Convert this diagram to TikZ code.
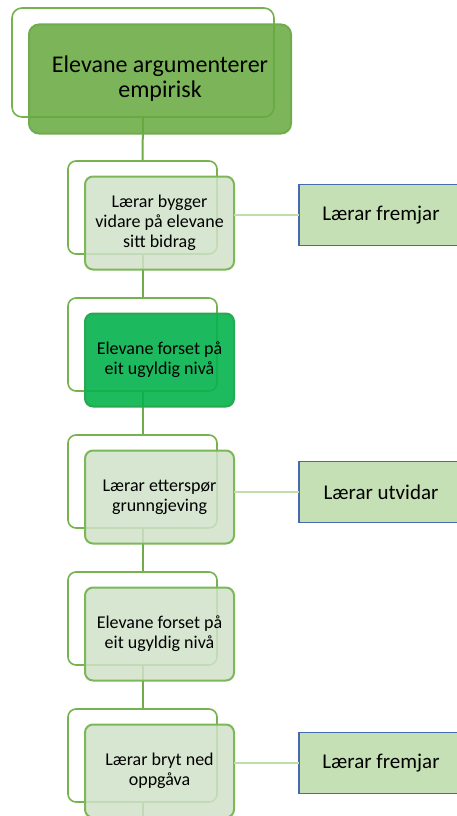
\documentclass[tikz,border=0pt]{standalone}
\usepackage{fontspec}
\usetikzlibrary{backgrounds}
\setmainfont{Carlito}
\definecolor{frameGreen}{RGB}{118,178,80}
\definecolor{spineGreen}{RGB}{112,170,74}
\definecolor{topFill}{RGB}{102,169,61}
\definecolor{topDraw}{RGB}{112,172,78}
\definecolor{paleFill}{RGB}{209,226,201}
\definecolor{paleDraw}{RGB}{124,183,88}
\definecolor{brightFill}{RGB}{5,178,77}
\definecolor{brightDraw}{RGB}{40,168,80}
\definecolor{sideFill}{RGB}{197,224,180}
\definecolor{sideDraw}{RGB}{70,106,172}
\definecolor{linkGreen}{RGB}{190,222,170}
\begin{document}
\begin{tikzpicture}[x=1pt,y=-1pt,
  every node/.style={inner sep=0pt, outer sep=0pt},
  backframe/.style={draw=frameGreen, line width=1.6pt, fill=white,
    rounded corners=8pt, minimum width=149pt, minimum height=93pt},
  frontbox/.style={draw=paleDraw, line width=2pt, fill=paleFill, fill opacity=0.85,
    text opacity=1, rounded corners=8pt, minimum width=149pt, minimum height=93pt,
    align=center, font=\fontsize{18}{19.8}\selectfont},
  sidebox/.style={draw=sideDraw, line width=1.5pt, fill=sideFill,
    minimum width=164pt, minimum height=61pt, font=\fontsize{21}{24}\selectfont},
  spine/.style={draw=spineGreen, line width=2pt},
  link/.style={draw=linkGreen, line width=1.3pt}]
\useasboundingbox (0,0) rectangle (456,816);

% level 1
\node[backframe, minimum width=262pt, minimum height=109pt, rounded corners=10pt]
  (b1) at (143,62.5) {};
\node[frontbox, minimum width=262pt, minimum height=109pt, rounded corners=10pt,
  fill=topFill, draw=topDraw, font=\fontsize{24}{25}\selectfont]
  (f1) at (160,79) {Elevane argumenterer\\empirisk};

% level 2
\node[backframe] (b2) at (142.5,207.5) {};
\node[frontbox] (f2) at (159.5,223) {Lærar bygger\\vidare på elevane\\sitt bidrag};

% level 3
\node[backframe] (b3) at (142.5,344.5) {};
\node[frontbox, fill=brightFill, draw=brightDraw, fill opacity=0.9]
  (f3) at (159.5,360) {Elevane forset på\\eit ugyldig nivå};

% level 4
\node[backframe] (b4) at (142.5,481.5) {};
\node[frontbox] (f4) at (159.5,497) {Lærar etterspør\\grunngjeving};

% level 5
\node[backframe] (b5) at (142.5,618.5) {};
\node[frontbox] (f5) at (159.5,634) {Elevane forset på\\eit ugyldig nivå};

% level 6
\node[backframe] (b6) at (142.5,755.5) {};
\node[frontbox] (f6) at (159.5,771) {Lærar bryt ned\\oppgåva};
\coordinate (end) at (142.5,816);

% vertical spine behind all steps
\begin{scope}[on background layer]
  \draw[spine] (b1.south) -- (b2.north);
  \draw[spine] (b2.south) -- (b3.north);
  \draw[spine] (b3.south) -- (b4.north);
  \draw[spine] (b4.south) -- (b5.north);
  \draw[spine] (b5.south) -- (b6.north);
  \draw[spine] (b6.south) -- (end);
\end{scope}

% teacher moves on the right
\node[sidebox] (r2) at (381,215) {Lærar fremjar};
\node[sidebox] (r4) at (381,492) {Lærar utvidar};
\node[sidebox] (r6) at (381,763) {Lærar fremjar};

\draw[link] (r2.west) -- (r2.west -| f2.east);
\draw[link] (r4.west) -- (r4.west -| f4.east);
\draw[link] (r6.west) -- (r6.west -| f6.east);
\end{tikzpicture}
\end{document}
